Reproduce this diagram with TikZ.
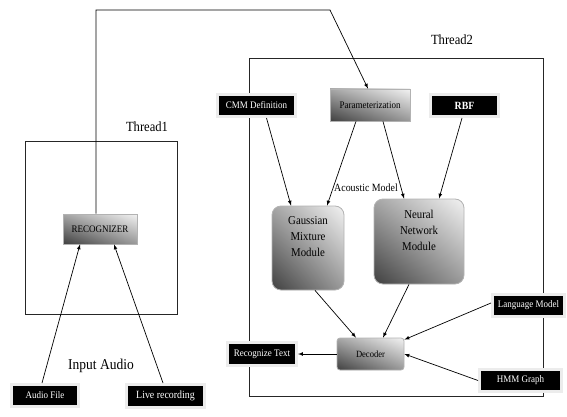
\documentclass[tikz,border=0pt]{standalone}
\usepackage{fontspec}
\setmainfont[FakeStretch=0.9]{Liberation Serif}
\usetikzlibrary{shadings}
\begin{document}
\begin{tikzpicture}[x=1pt,y=-1pt,>=latex,
  frame/.style={draw=black!85, line width=0.9pt},
  flow/.style={->, line width=0.7pt},
  blackbox/.style={rectangle, fill=black, draw=gray!15, line width=3pt, text=white,
    font=\fontsize{10}{11}\selectfont, inner sep=1pt},
  graybox/.style={rectangle, draw=gray!60, line width=0.8pt, shade,
    upper left=black!35, upper right=black!5, lower left=black!75, lower right=black!40,
    font=\fontsize{10}{11}\selectfont, inner sep=1pt},
  modbox/.style={graybox, rounded corners=9pt, align=center,
    font=\fontsize{12}{16}\selectfont},
  threadlbl/.style={font=\fontsize{14}{16}\selectfont}]
  \useasboundingbox (0,0) rectangle (567,417);

  \draw[frame] (25,141) rectangle (177,314);
  \draw[frame] (249,58) rectangle (543,396);
  \node[threadlbl] (t1) at (147,127) {Thread1};
  \node[threadlbl] (t2) at (452,40) {Thread2};
  \node[threadlbl, font=\fontsize{15}{17}\selectfont] (inaudio) at (101,366) {Input Audio};

  \node[graybox, minimum width=74pt, minimum height=30pt] (rec) at (100,229) {RECOGNIZER};
  \node[graybox, minimum width=80pt, minimum height=32pt] (param) at (370,105) {Parameterization};
  \node[blackbox, minimum width=78pt, minimum height=22pt] (cmm) at (256.5,105.5) {CMM Definition};
  \node[blackbox, minimum width=68pt, minimum height=22pt, font=\fontsize{11}{12}\selectfont\bfseries] (rbf) at (464.5,105.5) {RBF};
  \node[font=\fontsize{11}{12}\selectfont] (acm) at (366,188) {Acoustic Model};
  \node[modbox, minimum width=72pt, minimum height=84pt] (gmm) at (308,248) {Gaussian\\Mixture\\Module\\[6pt]};
  \node[modbox, minimum width=90pt, minimum height=85pt] (nnm) at (419,241.5) {Neural\\Network\\Module\\[6pt]};
  \node[graybox, rounded corners=3pt, minimum width=67pt, minimum height=32pt,
    font=\fontsize{9.5}{11}\selectfont] (dec) at (370.5,354) {Decoder};
  \node[blackbox, minimum width=69pt, minimum height=23pt] (rtext) at (262,354) {Recognize Text};
  \node[blackbox, minimum width=72pt, minimum height=22pt] (lang) at (528.5,305.5) {Language Model};
  \node[blackbox, minimum width=82pt, minimum height=22pt] (hmm) at (520.5,380.5) {HMM Graph};
  \node[blackbox, minimum width=67pt, minimum height=22pt] (audio) at (45,395.5) {Audio File};
  \node[blackbox, minimum width=78pt, minimum height=23pt, font=\fontsize{11}{12}\selectfont] (live) at (165.5,396) {Live recording};

  \coordinate (bend) at (330,10);
  \draw[flow] ([xshift=-4pt]rec.north) |- (bend) -- ([xshift=-2pt]param.north);
  \draw[flow] ([xshift=10pt]cmm.south) -- ([xshift=-17pt]gmm.north);
  \draw[flow] ([xshift=-14pt]param.south) -- ([xshift=19pt]gmm.north);
  \draw[flow] ([xshift=13pt]param.south) -- ([xshift=-15pt]nnm.north);
  \draw[flow] ([xshift=-2.5pt]rbf.south) -- ([xshift=20pt]nnm.north);
  \draw[flow] ([xshift=7pt]gmm.south) -- ([xshift=-14.5pt]dec.north);
  \draw[flow] ([xshift=-10pt]nnm.south) -- ([xshift=12.5pt]dec.north);
  \draw[flow] ([yshift=2.5pt]lang.west) -- ([yshift=-2pt]dec.north east);
  \draw[flow] (hmm.west) -- (dec.east);
  \draw[flow] (dec.west) -- (rtext.east);
  \draw[flow] ([xshift=-3pt]audio.north) -- ([xshift=-20pt]rec.south);
  \draw[flow] ([xshift=-2.5pt]live.north) -- ([xshift=14pt]rec.south);
\end{tikzpicture}
\end{document}
